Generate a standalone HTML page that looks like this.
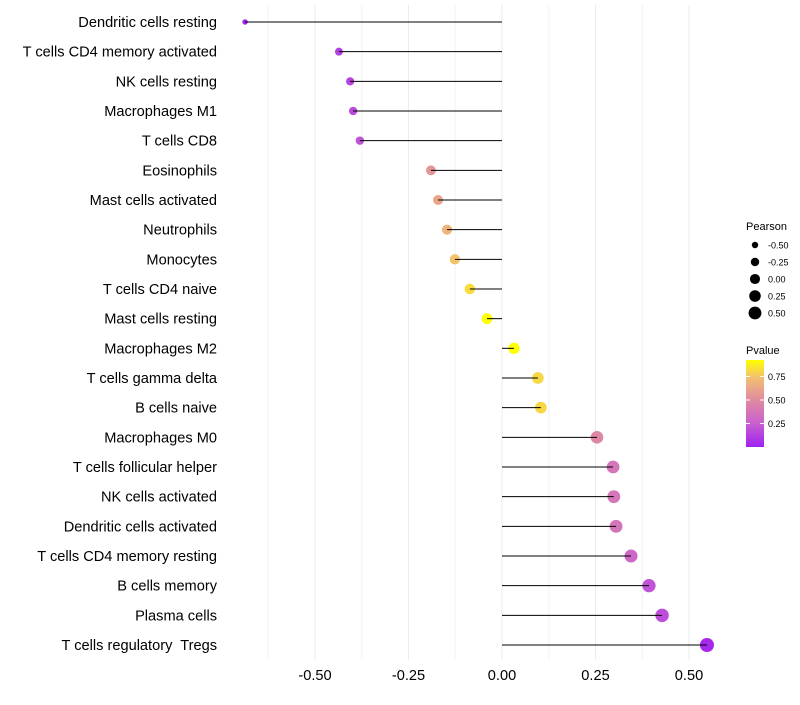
<!DOCTYPE html>
<html><head><meta charset="utf-8"><style>
body{margin:0;background:#fff;font-family:"Liberation Sans",sans-serif;}
svg text{font-family:"Liberation Sans",sans-serif;white-space:pre;}
</style></head><body>
<svg id="chart" width="800" height="700" xmlns="http://www.w3.org/2000/svg">
<defs><linearGradient id="pgrad" x1="0" y1="1" x2="0" y2="0">
<stop offset="0" stop-color="#a020f0"/><stop offset="0.27" stop-color="#c860d0"/><stop offset="0.54" stop-color="#e08aa0"/><stop offset="0.8" stop-color="#f2c070"/><stop offset="1" stop-color="#ffff00"/>
</linearGradient></defs>
<g id="grid"></g>
<g id="marks"></g>
<g id="ylabels"></g>
<g id="xlabels"></g>
<g>
<text x="746" y="230" font-size="11" fill="#000">Pearson</text>
<g id="sizeleg"></g>
</g>
<g>
<text x="746" y="354" font-size="11" fill="#000">Pvalue</text>
<rect x="746" y="360" width="18" height="87" fill="url(#pgrad)"/>
<g id="colleg"></g>
</g>
</svg>
<script>
const categories=["Dendritic cells resting","T cells CD4 memory activated","NK cells resting","Macrophages M1","T cells CD8","Eosinophils","Mast cells activated","Neutrophils","Monocytes","T cells CD4 naive","Mast cells resting","Macrophages M2","T cells gamma delta","B cells naive","Macrophages M0","T cells follicular helper","NK cells activated","Dendritic cells activated","T cells CD4 memory resting","B cells memory","Plasma cells","T cells regulatory  Tregs"];
const pearson=[-0.687,-0.436,-0.406,-0.398,-0.380,-0.190,-0.171,-0.147,-0.126,-0.086,-0.040,0.032,0.096,0.104,0.254,0.297,0.299,0.305,0.345,0.393,0.428,0.548];
const pvalue=[0.02,0.12,0.14,0.16,0.2,0.55,0.62,0.7,0.76,0.83,0.93,0.93,0.82,0.82,0.48,0.38,0.38,0.37,0.3,0.2,0.18,0.03];
const xTicks=[-0.5,-0.25,0,0.25,0.5];
const xTickLabels=["-0.50","-0.25","0.00","0.25","0.50"];
const sizeLegend=[-0.5,-0.25,0,0.25,0.5];
const sizeLegendLabels=["-0.50","-0.25","0.00","0.25","0.50"];
const colLegend=[0.75,0.5,0.25];
const colLegendLabels=["0.75","0.50","0.25"];

const NS="http://www.w3.org/2000/svg";
const xS=v=>502+v*374;
const yS=i=>22+i*(623/(categories.length-1));
const rS=v=>Math.sqrt(Math.max(1.5,30.8+34*v));
const pY=p=>447-p*94;
function lerp(a,b,t){return a+(b-a)*t;}
function col(p){
  const stops=[[0,[160,32,240]],[0.25,[200,96,208]],[0.5,[224,138,160]],[0.75,[242,192,112]],[0.93,[255,255,0]]];
  p=Math.max(0,Math.min(0.93,p));
  for(let k=0;k<stops.length-1;k++){const [a,ca]=stops[k],[b,cb]=stops[k+1];
    if(p<=b){const t=(p-a)/(b-a);return `rgb(${ca.map((c,j)=>Math.round(lerp(c,cb[j],t))).join(',')})`;}}
  return 'rgb(255,255,0)';
}
function mk(tag,attrs,parent){const e=document.createElementNS(NS,tag);for(const k in attrs)e.setAttribute(k,attrs[k]);parent.appendChild(e);return e;}
const grid=document.getElementById('grid');
for(let v=-0.625;v<=0.5001;v+=0.125){
  const g=mk('line',{x1:xS(v),x2:xS(v),y1:5,y2:660,stroke:xTicks.some(t=>Math.abs(t-v)<1e-6)?'#ebebeb':'#f3f3f3','stroke-width':1},grid);
  
  
}
const marks=document.getElementById('marks');
const yl=document.getElementById('ylabels');
categories.forEach((c,i)=>{
  const y=yS(i);
  const t=mk('text',{x:217,y:y+5,'font-size':14.6,'text-anchor':'end',fill:'#000'},yl);t.textContent=c;
  
  
  const ci=mk('circle',{cx:xS(pearson[i]),cy:y,r:rS(pearson[i]),fill:col(pvalue[i])},marks);
  
  
  const l=mk('line',{x1:xS(0),x2:xS(pearson[i]),y1:y,y2:y,stroke:'#000','stroke-width':1},marks);
  
  
});
const xl=document.getElementById('xlabels');
xTicks.forEach((v,i)=>{
  const t=mk('text',{x:xS(v),y:680,'font-size':14.6,'text-anchor':'middle',fill:'#000'},xl);t.textContent=xTickLabels[i];
  
  
});
const sl=document.getElementById('sizeleg');
sizeLegend.forEach((v,i)=>{
  const y=245+i*17;
  const c=mk('circle',{cx:755,cy:y,r:rS(v)-0.5,fill:'#000'},sl);
  
  
  const t=mk('text',{x:768,y:y+3.5,'font-size':9,fill:'#000'},sl);t.textContent=sizeLegendLabels[i];
  
  
});
const cl=document.getElementById('colleg');
colLegend.forEach((v,i)=>{
  const y=pY(v);
  mk('line',{x1:746,x2:750,y1:y,y2:y,stroke:'#fff','stroke-width':1},cl);
  mk('line',{x1:760,x2:764,y1:y,y2:y,stroke:'#fff','stroke-width':1},cl);
  const t=mk('text',{x:768,y:y+3.5,'font-size':9,fill:'#000'},cl);t.textContent=colLegendLabels[i];
  
  
});
</script>
</body></html>
